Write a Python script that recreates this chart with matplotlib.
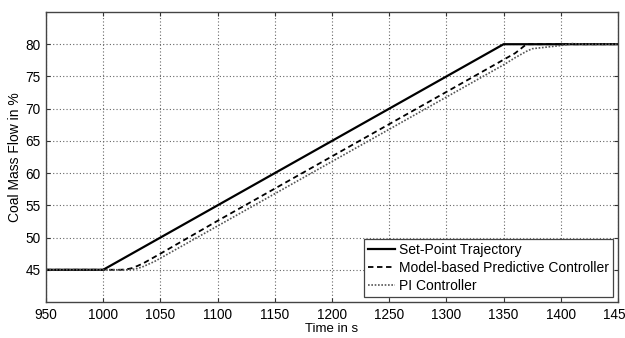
import matplotlib
matplotlib.use("Agg")
import matplotlib.pyplot as plt

plt.rcParams['font.family'] = ['Liberation Sans', 'DejaVu Sans']

t_sp = [950, 1000, 1350, 1450]
y_sp = [45, 45, 80, 80]

t_mpc = [950, 1015, 1020, 1025, 1030, 1035, 1040, 1045, 1050, 1100, 1150, 1200, 1250, 1300, 1350, 1360, 1365, 1370, 1450]
y_mpc = [45, 45, 45.05, 45.25, 45.6, 46.0, 46.5, 47.0, 47.5, 52.6, 57.6, 62.6, 67.6, 72.6, 77.6, 78.6, 79.3, 80, 80]

t_pi = [950, 1020, 1025, 1030, 1035, 1040, 1045, 1050, 1055, 1100, 1150, 1200, 1250, 1300, 1350, 1360, 1370, 1375, 1385, 1400, 1410, 1420, 1450]
y_pi = [45, 45, 45.05, 45.2, 45.5, 45.9, 46.3, 46.8, 47.3, 51.8, 56.8, 61.8, 66.8, 71.8, 76.8, 77.9, 78.9, 79.3, 79.5, 79.8, 80.1, 80.0, 80.0]

labels = ['Set-Point Trajectory', 'Model-based Predictive Controller', 'PI Controller']
xticks = [950, 1000, 1050, 1100, 1150, 1200, 1250, 1300, 1350, 1400, 1450]
yticks = [45, 50, 55, 60, 65, 70, 75, 80]

fig = plt.figure(figsize=(6.25, 3.38), dpi=100)
ax = fig.add_axes([46/625, 36/338, 572/625, 290/338])

ax.plot(t_sp, y_sp, color='black', lw=1.6, ls='-', label=labels[0])
ax.plot(t_mpc, y_mpc, color='black', lw=1.3, ls=(0, (3, 2)), label=labels[1])
ax.plot(t_pi, y_pi, color='#555555', lw=1.2, ls=(0, (1, 1)), label=labels[2])

ax.set_xlim(950, 1450)
ax.set_ylim(40, 85)
ax.set_xticks(xticks)
ax.set_yticks(yticks)
ax.tick_params(labelsize=9.8, direction='in', length=3, color='#333333', top=True, right=True, pad=4)
for s in ax.spines.values():
    s.set_color('#444444')
    s.set_linewidth(1.0)
ax.grid(True, color='#666666', ls=(0, (1, 2)), lw=0.8)
ax.set_xlabel('Time in s', fontsize=9.5, labelpad=1)
ax.set_ylabel('Coal Mass Flow in %', fontsize=10, labelpad=2)

leg = ax.legend(loc='lower right', fontsize=10, frameon=True, fancybox=False,
                edgecolor='#444444', framealpha=1, handlelength=1.9, handletextpad=0.3,
                borderpad=0.3, labelspacing=0.28, borderaxespad=0.35)
leg.get_frame().set_linewidth(0.9)

fig.savefig('out.png', dpi=100)
